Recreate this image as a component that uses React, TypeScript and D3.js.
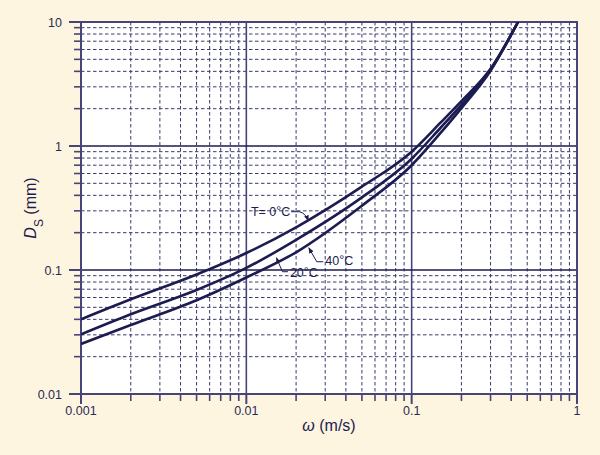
import * as d3 from "d3";

// fall velocity (m/s) vs sediment size (mm)
const omega = [0.001, 0.002, 0.005, 0.01, 0.02, 0.05, 0.1, 0.15, 0.2, 0.3, 0.44];
const dsT0 = [0.04, 0.058, 0.092, 0.137, 0.221, 0.47, 0.9, 1.55, 2.3, 4.2, 10];
const dsT20 = [0.0303, 0.044, 0.069, 0.104, 0.175, 0.385, 0.79, 1.41, 2.15, 4.12, 10];
const dsT40 = [0.0253, 0.036, 0.057, 0.087, 0.139, 0.33, 0.7, 1.28, 2.02, 4.05, 10];

const xMajor = [0.001, 0.01, 0.1, 1];
const xMajorLabels = ["0.001", "0.01", "0.1", "1"];
const yMajor = [0.01, 0.1, 1, 10];
const yMajorLabels = ["0.01", "0.1", "1", "10"];

// callouts: label, omega and Ds at the arrow tip
const callouts = [
  { label: "T= 0", omega: 0.0237, ds: 0.245, side: "left" },
  { label: "40", omega: 0.0237, ds: 0.154, side: "right40" },
  { label: "20", omega: 0.0151, ds: 0.128, side: "right20" },
];

const W = 600;
const H = 455;
const navy = "#1c1c50";
const frame = "#45457a";
const grid = "#3a3a6c";
const font = "'Liberation Sans', Arial, sans-serif";

export default function App() {
  const x = d3.scaleLog().domain([0.001, 1]).range([81, 577]);
  const y = d3.scaleLog().domain([0.01, 10]).range([394, 22]);
  const [x0, x1] = x.range();
  const [y0, y1] = y.range();

  const xMinor = x.ticks().filter((t) => !xMajor.some((m) => Math.abs(m - t) / m < 1e-6));
  const yMinor = y.ticks().filter((t) => !yMajor.some((m) => Math.abs(m - t) / m < 1e-6));

  const line = d3
    .line<number>()
    .x((_, i) => x(omega[i]))
    .y((d) => y(d))
    .curve(d3.curveMonotoneX);

  const series = [dsT0, dsT20, dsT40];

  return (
    <svg width={W} height={H} style={{ position: "absolute", left: 0, top: 0 }} fontFamily={font}>
      <defs>
        <clipPath id="plot">
          <rect x={x0} y={y1} width={x1 - x0} height={y0 - y1} />
        </clipPath>
        <marker id="arr" viewBox="0 0 10 10" refX="9" refY="5" markerWidth="6" markerHeight="6" orient="auto">
          <path d="M0,1 L10,5 L0,9 z" fill={navy} />
        </marker>
      </defs>
      <rect width={W} height={H} fill="#fdf5df" />
      <rect x={x0} y={y1} width={x1 - x0} height={y0 - y1} fill="#fff" />

      {/* minor grid */}
      {xMinor.map((t) => (
        <line key={"xm" + t} x1={x(t)} x2={x(t)} y1={y1} y2={y0} stroke={grid} strokeWidth={1} strokeDasharray="3.5,2.5" />
      ))}
      {yMinor.map((t) => (
        <line key={"ym" + t} x1={x0} x2={x1} y1={y(t)} y2={y(t)} stroke={grid} strokeWidth={1} strokeDasharray="3.5,2.5" />
      ))}
      {/* major grid */}
      {xMajor.slice(1, -1).map((t) => (
        <line key={"xM" + t} x1={x(t)} x2={x(t)} y1={y1} y2={y0} stroke={frame} strokeWidth={1.6} />
      ))}
      {yMajor.slice(1, -1).map((t) => (
        <line key={"yM" + t} x1={x0} x2={x1} y1={y(t)} y2={y(t)} stroke={navy} strokeWidth={1.6} />
      ))}

      {/* frame */}
      <rect x={x0} y={y1} width={x1 - x0} height={y0 - y1} fill="none" stroke={frame} strokeWidth={2} />

      {/* ticks */}
      {xMinor.map((t) => (
        <line key={"xt" + t} x1={x(t)} x2={x(t)} y1={y0} y2={y0 + 7} stroke={frame} strokeWidth={1.6} />
      ))}
      {xMajor.map((t) => (
        <line key={"xT" + t} x1={x(t)} x2={x(t)} y1={y0} y2={y0 + 10} stroke={frame} strokeWidth={2} />
      ))}
      {yMinor.map((t) => (
        <line key={"yt" + t} x1={x0 - 7} x2={x0} y1={y(t)} y2={y(t)} stroke={frame} strokeWidth={1.6} />
      ))}
      {yMajor.map((t) => (
        <line key={"yT" + t} x1={x0 - 12} x2={x0} y1={y(t)} y2={y(t)} stroke={frame} strokeWidth={2} />
      ))}

      {/* tick labels */}
      {xMajor.map((t, i) => (
        <text key={"xl" + t} x={x(t)} y={y0 + 21} textAnchor="middle" fontSize={12.5} fill="#2a2a55">
          {xMajorLabels[i]}
        </text>
      ))}
      {yMajor.map((t, i) => (
        <text key={"yl" + t} x={x0 - 19} y={y(t) + 4.5} textAnchor="end" fontSize={12.5} fill="#2a2a55">
          {yMajorLabels[i]}
        </text>
      ))}

      {/* curves */}
      <g clipPath="url(#plot)">
        {series.map((s, i) => (
          <path key={i} d={line(s) ?? ""} fill="none" stroke={navy} strokeWidth={2.6} />
        ))}
      </g>

      {/* callouts */}
      {callouts.map((c) => {
        const tx = x(c.omega);
        const ty = y(c.ds);
        if (c.side === "left") {
          return (
            <g key={c.label}>
              <path
                d={`M${tx - 17},${ty - 10} L${tx - 9},${ty - 10} Q${tx - 3},${ty - 9} ${tx},${ty - 1}`}
                fill="none"
                stroke={navy}
                strokeWidth={1}
                markerEnd="url(#arr)"
              />
              <text x={tx - 18} y={ty - 5.5} textAnchor="end" fontSize={12.5} fill={navy}>
                {c.label}
                <tspan dy={-1}>°</tspan>
                <tspan dy={1}>C</tspan>
              </text>
            </g>
          );
        }
        const off = c.side === "right40" ? { lx: 15, ly: 15, mx: 8.5, tx: 17, ty: 18.5 } : { lx: 12, ly: 15, mx: 6.5, tx: 14, ty: 20 };
        return (
          <g key={c.label}>
            <path
              d={`M${tx + off.lx},${ty + off.ly} L${tx + off.mx},${ty + off.ly} L${tx + 0.5},${ty + 1}`}
              fill="none"
              stroke={navy}
              strokeWidth={1}
              markerEnd="url(#arr)"
            />
            <text x={tx + off.tx} y={ty + off.ty} fontSize={12.5} fill={navy}>
              {c.label}
              <tspan dy={-1}>°</tspan>
              <tspan dy={1}>C</tspan>
            </text>
          </g>
        );
      })}

      {/* axis titles */}
      <text x={(x0 + x1) / 2} y={431} textAnchor="middle" fontSize={16} fill={navy}>
        <tspan fontStyle="italic">ω</tspan> (m/s)
      </text>
      <text transform={`translate(36,${(y0 + y1) / 2}) rotate(-90)`} textAnchor="middle" fontSize={16} fill={navy}>
        <tspan fontStyle="italic">D</tspan>
        <tspan fontSize={12} dy={7}>S</tspan>
        <tspan dy={-7}> (mm)</tspan>
      </text>
    </svg>
  );
}
